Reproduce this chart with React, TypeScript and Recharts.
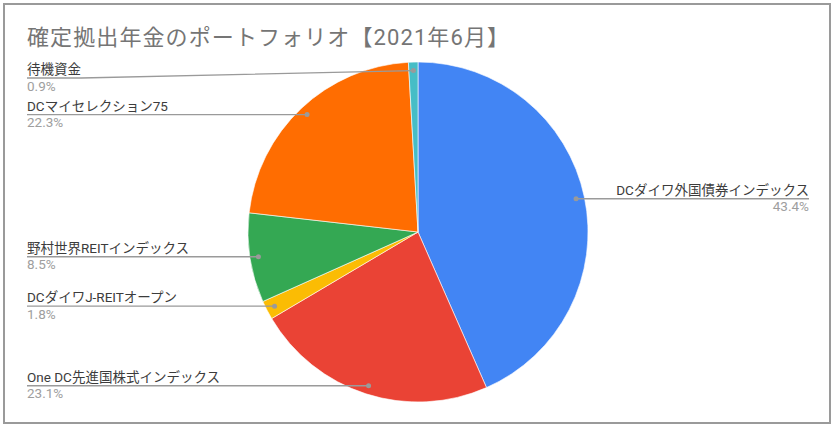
import { PieChart, Pie, Cell } from 'recharts'

const title = '確定拠出年金のポートフォリオ【2021年6月】'
const names = [
  'DCダイワ外国債券インデックス',
  'One DC先進国株式インデックス',
  'DCダイワJ-REITオープン',
  '野村世界REITインデックス',
  'DCマイセレクション75',
  '待機資金',
]
const values = [43.4, 23.1, 1.8, 8.5, 22.3, 0.9]
const colors = ['#4285F4', '#EA4335', '#FBBC04', '#34A853', '#FF6D01', '#46BDC6']

const data = names.map((name, i) => ({ name, value: values[i] }))

const RAD = Math.PI / 180
const FONT = "Roboto, 'Noto Sans CJK JP', sans-serif"
const LABEL_SIZE = 13.5

// rough text width so the leader line can run under the label
function textW(s: string, size: number) {
  let w = 0
  for (const ch of s) w += ch.charCodeAt(0) > 255 ? size : size * 0.6
  return w
}

function renderLabel(props: any) {
  const { cx, cy, midAngle, outerRadius, index, value } = props
  const r = outerRadius * 0.95
  const dx = cx + r * Math.cos(-midAngle * RAD)
  const dy = cy + r * Math.sin(-midAngle * RAD)
  const right = dx > cx
  const ly = Math.max(dy, 78)
  const tx = right ? 809 : 27
  const name = names[index]
  const w = textW(name, LABEL_SIZE)
  const endX = right ? tx - w : tx + w
  const pts = right
    ? `${dx},${dy} ${endX},${ly} ${tx},${ly}`
    : `${tx},${ly} ${endX},${ly} ${dx},${dy}`
  return (
    <g key={`lbl-${index}`}>
      <polyline points={pts} fill="none" stroke="#9a9a9a" strokeWidth={1.3} />
      <circle cx={dx} cy={dy} r={2.5} fill="#9a9a9a" />
      <text x={tx} y={ly - 4} textAnchor={right ? 'end' : 'start'} fontSize={LABEL_SIZE} fill="#3c3c3c" fontFamily={FONT}>
        {name}
      </text>
      <text x={tx} y={ly + 12.5} textAnchor={right ? 'end' : 'start'} fontSize={LABEL_SIZE} fill="#9e9e9e" fontFamily={FONT}>
        {Number(value).toFixed(1)}%
      </text>
    </g>
  )
}

export default function App() {
  return (
    <div style={{ position: 'absolute', left: 0, top: 0, width: 835, height: 428, background: '#fff' }}>
      <div
        style={{
          position: 'absolute', left: 3, top: 3, width: 828, height: 421,
          border: '2px solid #9a9a9a', boxSizing: 'border-box',
        }}
      />
      <svg style={{ position: 'absolute', left: 0, top: 0 }} width={835} height={60}>
        <text x={27} y={45} fontSize={22} letterSpacing={1.1} fill="#757575" fontFamily={FONT}>{title}</text>
      </svg>
      <div style={{ position: 'absolute', left: 0, top: 0 }}>
        <PieChart width={835} height={428} margin={{ top: 0, right: 0, bottom: 0, left: 0 }}>
          <Pie
            data={data}
            dataKey="value"
            nameKey="name"
            cx={418}
            cy={232}
            outerRadius={170}
            startAngle={90}
            endAngle={-270}
            stroke="#fff"
            strokeWidth={0.6}
            label={renderLabel}
            labelLine={false}
            isAnimationActive={false}
          >
            {data.map((d, i) => (
              <Cell key={d.name} fill={colors[i]} />
            ))}
          </Pie>
        </PieChart>
      </div>
    </div>
  )
}
